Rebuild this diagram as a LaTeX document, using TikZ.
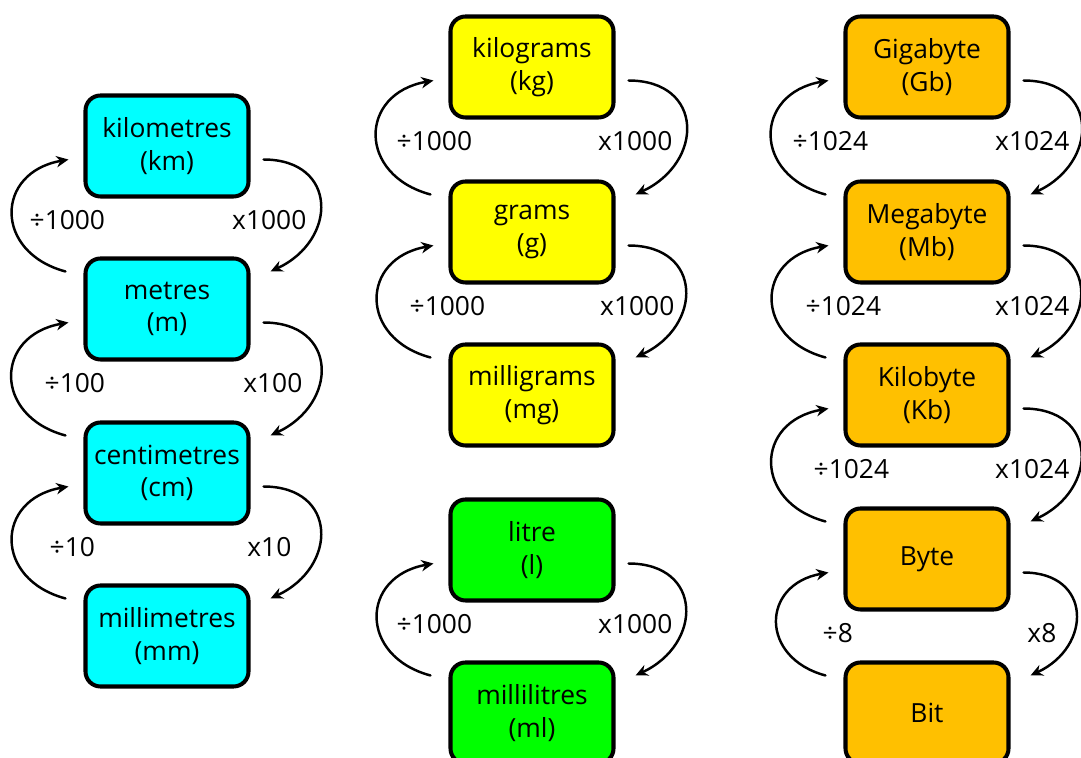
\documentclass[tikz,border=0pt]{standalone}
\usepackage{fontspec}
\setmainfont{Open Sans}
\usetikzlibrary{arrows.meta}
\definecolor{lengthcol}{HTML}{00FFFF}
\definecolor{masscol}{HTML}{FFFF00}
\definecolor{volumecol}{HTML}{00FF00}
\definecolor{datacol}{HTML}{FFC000}
\begin{document}
\begin{tikzpicture}[>={Stealth[length=7pt,width=6.5pt]}, line cap=round, line join=round,
	font=\fontsize{15}{18.5}\selectfont,
	box/.style={draw, line width=2.3pt, rounded corners=0.3cm, minimum width=3.26cm, minimum height=2.02cm, align=center},
	conv/.style={->, line width=1.4pt, looseness=1.7}]
	\useasboundingbox (0,0) rectangle (21.62,15.16);
	
	% length
	\node[box, fill=lengthcol] (km) at (3.34,12.24) {kilometres\\(km)};
	\node[box, fill=lengthcol] (m) at (3.34,8.98) {metres\\(m)};
	\node[box, fill=lengthcol] (cm) at (3.34,5.70) {centimetres\\(cm)};
	\node[box, fill=lengthcol] (mm) at (3.34,2.44) {millimetres\\(mm)};
	
	% mass and volume
	\node[box, fill=masscol] (kg) at (10.64,13.82) {kilograms\\(kg)};
	\node[box, fill=masscol] (g) at (10.64,10.52) {grams\\(g)};
	\node[box, fill=masscol] (mg) at (10.64,7.26) {milligrams\\(mg)};
	\node[box, fill=volumecol] (l) at (10.64,4.16) {litre\\(l)};
	\node[box, fill=volumecol] (ml) at (10.64,0.90) {millilitres\\(ml)};
	
	% data
	\node[box, fill=datacol] (Gb) at (18.54,13.82) {Gigabyte\\(Gb)};
	\node[box, fill=datacol] (Mb) at (18.54,10.52) {Megabyte\\(Mb)};
	\node[box, fill=datacol] (Kb) at (18.54,7.26) {Kilobyte\\(Kb)};
	\node[box, fill=datacol] (B) at (18.54,3.98) {Byte};
	\node[box, fill=datacol] (bit) at (18.54,0.90) {Bit};
	
	\foreach \a/\b/\n/\sl/\sr in {km/m/1000/-1.2/1.24, m/cm/100/-0.9/1.16, cm/mm/10/-0.8/0.94,
		kg/g/1000/-1.16/1.26, g/mg/1000/-0.9/1.3, l/ml/1000/-1.16/1.26,
		Gb/Mb/1024/-1.14/1.3, Mb/Kb/1024/-0.88/1.3, Kb/B/1024/-0.72/1.3, B/bit/8/-0.54/1.04} {
		\draw[conv] ([xshift=-0.36cm,yshift=-0.3cm]\b.north west) to[out=165,in=190] ([xshift=-0.3cm,yshift=0.78cm]\a.south west);
		\draw[conv] ([xshift=0.26cm,yshift=0.78cm]\a.south east) to[out=0,in=25] ([xshift=0.4cm,yshift=-0.3cm]\b.north east);
		\node[anchor=west] (div\a) at ([xshift=\sl cm,yshift=-0.43cm]\a.south west) {÷\n};
		\node[anchor=east] (mul\a) at ([xshift=\sr cm,yshift=-0.43cm]\a.south east) {x\n};
	}
\end{tikzpicture}
\end{document}
